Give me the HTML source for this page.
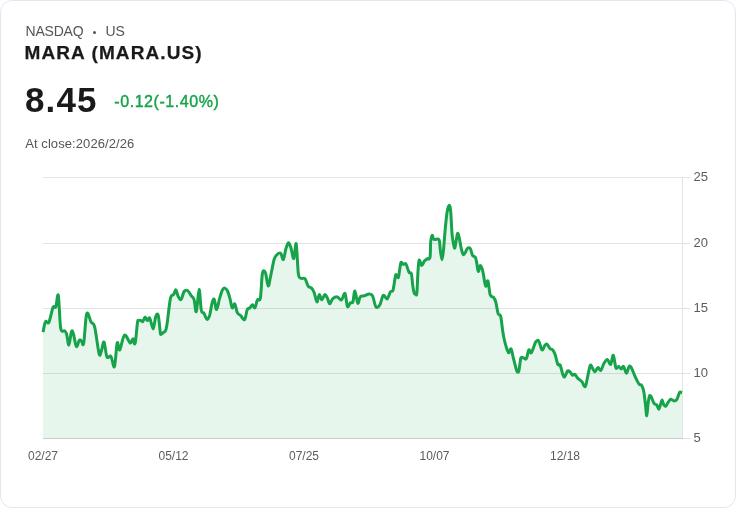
<!DOCTYPE html>
<html lang="en">
<head>
<meta charset="utf-8">
<title>MARA (MARA.US)</title>
<style>
html,body{margin:0;padding:0;background:#fff;}
body{width:736px;height:508px;overflow:hidden;font-family:"Liberation Sans",sans-serif;}
.card{position:absolute;left:0;top:0;width:734px;height:506px;border:1px solid #e2e7f1;border-radius:12px;background:#fff;}
.t{position:absolute;white-space:nowrap;line-height:1;}
.mkt{left:25.5px;top:24.3px;font-size:14px;color:#555;letter-spacing:-.2px;}
.us{left:105.4px;top:24.3px;font-size:14px;color:#555;letter-spacing:-.1px;}
.dot{position:absolute;left:92.6px;top:31px;width:3.4px;height:3.4px;border-radius:50%;background:#555;}
.name{left:24.6px;top:43px;font-size:19px;font-weight:700;color:#1a1a1a;letter-spacing:1.08px;-webkit-text-stroke:.25px #1a1a1a;}
.price{left:25px;top:81.5px;font-size:35px;font-weight:700;color:#1a1a1a;letter-spacing:1.1px;}
.chg{left:114.3px;top:93.5px;font-size:16px;color:#16a34a;letter-spacing:.56px;-webkit-text-stroke:.4px #16a34a;}
.close{left:25.2px;top:137px;font-size:13px;color:#555;letter-spacing:.08px;}
svg{position:absolute;left:0;top:0;}
svg text{font-family:"Liberation Sans",sans-serif;fill:#5c5c5c;}
</style>
</head>
<body>
<div class="card"></div>
<div class="t mkt">NASDAQ</div><div class="dot"></div><div class="t us">US</div>
<div class="t name">MARA (MARA.US)</div>
<div class="t price">8.45</div>
<div class="t chg">-0.12(-1.40%)</div>
<div class="t close">At close:2026/2/26</div>
<svg width="736" height="508" viewBox="0 0 736 508">
<g stroke="#e3e3e3" stroke-width="1" >
<line x1="43" y1="177.5" x2="690.5" y2="177.5"/>
<line x1="43" y1="243.5" x2="690.5" y2="243.5"/>
<line x1="43" y1="308.5" x2="690.5" y2="308.5"/>
<line x1="43" y1="373.5" x2="690.5" y2="373.5"/>
<line x1="682" y1="438.5" x2="690.5" y2="438.5"/>
<line x1="682.5" y1="177" x2="682.5" y2="439"/>
</g>
<path d="M43.0 332.2C43.4 330.4 44.5 323.3 45.5 321.7C46.5 320.1 47.6 324.7 48.9 322.3C50.1 319.9 51.9 310.0 53.0 307.4C54.1 304.8 54.9 308.9 55.8 306.9C56.7 304.9 57.5 291.8 58.3 295.3C59.1 298.9 59.7 322.3 60.7 328.2C61.8 334.1 63.6 329.8 64.6 330.8C65.6 331.8 65.9 331.7 66.6 334.1C67.3 336.5 68.1 345.4 68.9 345.0C69.7 344.6 70.7 333.4 71.5 331.6C72.3 329.8 72.7 331.6 73.5 334.1C74.3 336.6 75.4 345.5 76.4 346.5C77.4 347.5 78.5 341.2 79.3 340.3C80.1 339.4 80.8 340.5 81.5 341.0C82.2 341.5 82.8 347.7 83.7 343.2C84.6 338.7 85.5 317.3 86.7 313.8C88.0 310.3 89.9 320.1 91.2 322.3C92.5 324.5 93.4 321.9 94.7 327.2C96.0 332.4 98.0 349.9 99.1 353.8C100.2 357.8 100.6 352.9 101.4 350.9C102.2 348.9 103.1 341.0 104.0 342.0C104.9 343.0 105.8 354.4 106.9 356.8C108.1 359.2 109.7 354.8 110.9 356.4C112.2 358.0 113.4 368.8 114.4 366.6C115.5 364.4 116.3 345.8 117.2 343.0C118.1 340.2 118.5 351.2 119.7 349.9C120.9 348.6 122.8 336.2 124.6 335.1C126.3 334.0 128.8 342.4 130.2 343.0C131.6 343.6 132.1 338.6 132.9 338.7C133.7 338.8 134.3 346.1 135.1 343.4C135.9 340.7 136.9 326.3 137.5 322.5C138.1 318.7 138.1 321.0 138.6 320.6C139.1 320.2 139.8 320.2 140.5 320.4C141.2 320.6 142.1 322.2 142.8 321.6C143.6 321.1 144.2 317.3 145.0 317.1C145.8 316.9 146.5 320.4 147.3 320.6C148.1 320.8 148.7 316.7 149.7 318.1C150.7 319.5 152.2 329.1 153.2 328.9C154.2 328.7 154.8 319.4 155.6 317.1C156.4 314.8 157.4 312.6 158.2 315.2C159.0 317.8 159.8 329.4 160.3 332.5C160.8 335.6 160.8 334.0 161.3 334.0C161.8 334.0 162.5 333.2 163.2 332.6C163.9 332.0 165.0 331.9 165.6 330.6C166.2 329.3 166.4 327.9 166.9 325.0C167.4 322.1 167.8 317.7 168.4 313.1C169.0 308.5 169.8 300.5 170.7 297.4C171.6 294.3 172.8 295.6 173.7 294.4C174.6 293.1 175.2 289.6 175.9 289.9C176.7 290.2 177.3 294.8 178.2 296.4C179.1 298.0 180.2 300.2 181.2 299.4C182.2 298.6 183.0 293.0 184.1 291.5C185.2 290.0 186.3 289.9 187.5 290.5C188.7 291.1 189.9 293.9 191.0 295.4C192.1 296.9 193.1 296.7 194.0 299.4C194.9 302.1 195.5 313.2 196.3 311.6C197.2 310.0 198.3 289.7 199.1 289.5C199.9 289.3 200.5 306.3 201.3 310.2C202.1 314.1 202.8 311.6 203.8 313.1C204.8 314.6 206.2 319.1 207.2 319.4C208.2 319.7 208.8 318.0 209.7 315.1C210.5 312.2 211.5 304.9 212.3 302.3C213.1 299.7 213.6 298.2 214.3 299.4C215.0 300.6 215.7 309.8 216.6 309.6C217.5 309.4 218.6 301.7 219.6 298.4C220.6 295.1 221.5 291.7 222.4 290.0C223.3 288.3 224.1 287.9 224.9 288.1C225.8 288.3 226.7 289.4 227.5 291.0C228.3 292.6 229.0 295.1 229.8 297.9C230.6 300.7 231.4 306.8 232.2 307.8C233.0 308.8 234.0 303.0 234.8 303.8C235.7 304.6 236.3 310.7 237.3 312.7C238.3 314.7 239.5 314.5 240.7 315.6C241.9 316.8 243.5 320.6 244.6 319.6C245.7 318.6 246.3 311.7 247.2 309.7C248.1 307.7 249.0 308.6 249.9 307.8C250.8 307.0 251.7 304.8 252.5 304.8C253.3 304.8 254.2 308.6 255.0 307.8C255.8 307.0 256.5 301.5 257.4 299.9C258.3 298.2 259.6 302.2 260.4 297.9C261.2 293.6 261.6 278.8 262.3 274.3C263.0 269.8 263.7 270.9 264.3 270.9C264.9 270.9 265.2 271.8 265.9 274.3C266.5 276.8 267.4 285.9 268.2 286.1C269.0 286.3 269.8 279.7 270.8 275.3C271.8 270.9 273.1 262.9 274.1 259.5C275.2 256.1 276.0 255.7 277.1 254.6C278.2 253.5 279.6 252.4 280.6 253.2C281.7 254.0 282.5 260.2 283.4 259.5C284.3 258.8 285.0 251.5 285.9 248.7C286.8 245.9 287.7 243.0 288.5 242.8C289.3 242.6 290.0 245.1 290.9 247.7C291.8 250.3 292.9 259.1 293.8 258.5C294.7 257.9 295.4 241.3 296.2 243.8C296.9 246.3 297.6 267.6 298.3 273.3C299.1 279.0 299.6 277.3 300.7 278.2C301.8 279.1 303.8 277.5 305.0 278.8C306.2 280.1 307.1 284.6 308.2 286.1C309.3 287.7 310.5 287.0 311.5 288.1C312.5 289.2 313.4 290.7 314.3 293.0C315.2 295.3 316.1 301.6 316.9 301.9C317.7 302.2 318.5 294.9 319.3 294.6C320.1 294.3 320.9 299.9 321.8 299.9C322.7 299.9 323.9 294.9 324.8 294.6C325.7 294.3 326.5 296.4 327.3 297.9C328.1 299.4 328.8 303.6 329.7 303.8C330.6 304.0 331.4 300.0 332.6 298.9C333.9 297.8 335.7 296.7 337.2 296.9C338.7 297.1 340.2 300.5 341.5 299.9C342.8 299.3 344.0 292.3 345.0 293.4C346.0 294.5 346.5 304.8 347.4 306.4C348.3 308.0 349.5 303.6 350.4 302.8C351.3 302.1 352.1 303.9 352.9 301.9C353.6 299.9 354.1 290.8 354.9 291.0C355.7 291.2 356.9 302.2 357.8 303.2C358.7 304.2 359.1 298.1 360.2 296.9C361.2 295.7 362.6 296.4 364.1 295.9C365.6 295.4 367.7 294.0 369.1 294.0C370.5 294.0 371.5 293.8 372.6 295.9C373.7 298.0 374.7 305.3 375.9 306.8C377.1 308.3 378.7 306.7 379.9 304.8C381.1 302.9 382.0 296.4 383.2 295.4C384.4 294.4 386.0 299.5 387.2 298.9C388.4 298.3 389.4 293.4 390.3 292.0C391.2 290.6 392.2 291.9 392.8 290.6C393.4 289.3 393.6 287.0 394.1 284.4C394.6 281.8 395.1 275.9 395.8 274.8C396.5 273.7 397.7 278.3 398.3 277.5C398.9 276.7 399.2 272.5 399.6 270.0C400.1 267.5 400.4 263.3 401.0 262.4C401.6 261.5 402.3 264.2 403.1 264.4C403.9 264.6 405.0 263.0 405.8 263.8C406.6 264.6 407.3 267.8 407.9 269.3C408.5 270.8 408.7 271.9 409.3 272.7C409.9 273.4 410.8 271.7 411.4 273.8C412.0 275.9 412.2 282.0 412.7 285.1C413.1 288.2 413.6 291.1 414.1 292.7C414.6 294.3 415.0 294.5 415.5 294.5C416.0 294.5 416.5 296.6 416.9 292.7C417.3 288.8 417.6 276.8 418.0 271.3C418.4 265.9 418.6 260.9 419.2 260.0C419.8 259.1 420.8 265.4 421.7 265.6C422.6 265.8 423.5 262.1 424.4 261.0C425.3 259.9 426.3 259.3 427.2 258.7C428.1 258.1 429.4 260.3 430.0 257.5C430.6 254.7 430.3 245.6 430.7 241.9C431.1 238.2 431.5 235.8 432.1 235.4C432.7 235.0 433.0 238.7 434.1 239.4C435.2 240.1 438.0 238.0 439.0 239.8C440.0 241.6 439.8 246.8 440.3 250.1C440.8 253.4 441.5 259.8 442.0 259.8C442.5 259.8 443.0 255.2 443.5 250.1C444.0 245.0 444.6 235.8 445.2 229.4C445.8 223.0 446.5 215.5 447.2 211.5C447.9 207.5 448.7 205.3 449.3 205.3C449.9 205.3 450.2 206.8 450.7 211.5C451.1 216.2 451.6 228.3 452.0 233.6C452.4 238.9 452.9 240.8 453.4 243.2C453.9 245.6 454.3 248.5 454.8 248.1C455.3 247.7 455.7 243.0 456.2 240.5C456.7 238.0 457.1 233.8 457.6 233.3C458.1 232.8 458.6 235.3 459.2 237.7C459.8 240.0 460.4 244.6 461.0 247.4C461.6 250.2 462.4 253.4 463.1 254.3C463.8 255.2 464.4 253.8 465.1 252.9C465.8 252.0 466.4 249.5 467.2 248.7C468.0 247.9 469.3 247.6 470.0 248.1C470.7 248.6 470.9 250.2 471.3 251.5C471.8 252.8 472.0 254.6 472.7 255.6C473.4 256.6 474.8 256.3 475.5 257.7C476.2 259.1 476.4 261.6 476.9 263.9C477.4 266.2 477.7 271.1 478.3 271.4C478.9 271.7 479.6 265.6 480.3 265.5C481.0 265.4 481.8 267.4 482.7 270.8C483.6 274.2 484.7 284.2 485.6 285.9C486.5 287.6 487.1 279.5 487.9 281.0C488.7 282.5 489.3 292.1 490.2 294.8C491.1 297.5 492.5 296.2 493.4 297.3C494.3 298.4 494.9 299.0 495.7 301.7C496.5 304.4 497.3 311.1 498.1 313.5C498.9 315.9 499.9 313.6 500.7 316.4C501.4 319.2 502.0 326.1 502.6 330.2C503.2 334.3 503.8 337.7 504.6 341.0C505.4 344.3 506.5 347.9 507.2 349.9C507.9 351.9 508.2 353.0 508.9 352.8C509.5 352.6 510.3 347.9 511.1 348.9C511.9 349.9 512.6 355.3 513.5 358.7C514.4 362.1 515.6 367.1 516.2 369.3C516.9 371.5 517.0 371.6 517.4 372.0C517.8 372.4 518.3 372.7 518.7 371.6C519.1 370.5 519.3 367.8 519.7 365.5C520.1 363.2 520.3 359.3 520.9 358.0C521.5 356.7 522.4 357.7 523.3 357.8C524.2 357.9 525.4 360.0 526.3 358.7C527.2 357.4 528.0 350.9 528.8 349.9C529.6 348.9 530.3 353.5 531.2 352.8C532.1 352.1 533.3 347.8 534.1 345.9C534.9 344.0 535.3 342.2 536.1 341.4C536.9 340.6 537.7 339.6 538.7 341.0C539.7 342.4 541.0 349.1 542.0 349.9C543.0 350.7 543.8 346.9 544.6 345.9C545.4 344.9 546.0 343.6 546.9 344.0C547.8 344.4 548.9 347.5 549.9 348.5C550.9 349.5 551.9 348.8 552.8 349.9C553.7 350.9 554.4 352.4 555.2 354.8C556.0 357.2 557.0 362.6 557.8 364.3C558.6 366.0 559.3 363.4 560.1 365.0C560.9 366.6 562.0 372.1 562.7 374.1C563.5 376.1 563.8 377.4 564.6 376.9C565.4 376.4 566.7 371.7 567.6 370.9C568.5 370.1 569.4 371.4 570.2 372.1C571.0 372.8 571.7 374.8 572.5 375.2C573.3 375.6 574.0 373.9 574.9 374.4C575.8 374.9 576.5 376.9 577.6 378.1C578.8 379.3 580.5 380.2 581.8 381.6C583.1 383.0 584.2 387.6 585.2 386.7C586.2 385.8 586.9 379.9 587.7 376.3C588.6 372.8 589.5 366.7 590.3 365.4C591.1 364.1 591.8 367.3 592.6 368.4C593.4 369.4 594.1 371.9 595.0 371.7C595.9 371.5 597.0 367.6 598.0 367.4C599.0 367.2 599.9 371.0 600.9 370.4C601.9 369.8 602.8 365.3 603.9 363.5C605.0 361.7 606.3 359.4 607.4 359.5C608.5 359.6 609.7 365.1 610.7 364.4C611.7 363.7 612.4 354.6 613.3 355.2C614.2 355.8 615.0 365.9 615.9 367.8C616.8 369.7 617.7 366.2 618.6 366.4C619.5 366.6 620.4 369.0 621.2 369.0C622.0 369.0 622.6 365.7 623.5 366.4C624.4 367.1 625.6 373.3 626.5 373.3C627.4 373.3 628.3 367.3 629.1 366.4C629.9 365.5 630.4 366.1 631.4 367.8C632.4 369.5 633.9 374.1 635.2 376.8C636.5 379.5 637.9 382.7 639.0 384.1C640.1 385.6 640.9 384.2 641.7 385.5C642.5 386.8 643.2 388.6 643.8 391.7C644.4 394.8 644.9 400.1 645.4 404.1C645.9 408.1 646.3 416.0 646.8 415.8C647.3 415.6 647.7 406.0 648.2 402.7C648.7 399.4 649.1 396.7 649.6 395.8C650.1 394.9 650.6 395.9 651.4 397.2C652.1 398.5 653.2 402.1 654.1 403.4C655.0 404.7 656.1 404.2 656.9 405.2C657.7 406.2 658.3 409.5 658.9 409.3C659.5 409.1 660.1 405.7 660.6 404.1C661.1 402.6 661.6 399.9 662.1 400.0C662.6 400.1 663.2 403.8 663.8 404.8C664.4 405.8 665.1 406.6 665.8 406.2C666.5 405.8 667.1 403.8 667.9 402.7C668.7 401.6 669.7 399.6 670.7 399.3C671.7 399.0 673.1 400.9 674.1 400.9C675.1 400.9 676.2 400.3 676.9 399.3C677.6 398.3 678.0 396.3 678.5 395.1C679.0 393.9 679.3 392.4 679.9 392.0C680.5 391.6 681.7 392.7 682.1 392.8L682.1 438L43.0 438Z" fill="#16a34a" fill-opacity="0.1" stroke="none"/>
<line x1="43" y1="438.5" x2="683" y2="438.5" stroke="#cccccc" stroke-width="1" shape-rendering="crispEdges"/>
<path d="M43.0 332.2C43.4 330.4 44.5 323.3 45.5 321.7C46.5 320.1 47.6 324.7 48.9 322.3C50.1 319.9 51.9 310.0 53.0 307.4C54.1 304.8 54.9 308.9 55.8 306.9C56.7 304.9 57.5 291.8 58.3 295.3C59.1 298.9 59.7 322.3 60.7 328.2C61.8 334.1 63.6 329.8 64.6 330.8C65.6 331.8 65.9 331.7 66.6 334.1C67.3 336.5 68.1 345.4 68.9 345.0C69.7 344.6 70.7 333.4 71.5 331.6C72.3 329.8 72.7 331.6 73.5 334.1C74.3 336.6 75.4 345.5 76.4 346.5C77.4 347.5 78.5 341.2 79.3 340.3C80.1 339.4 80.8 340.5 81.5 341.0C82.2 341.5 82.8 347.7 83.7 343.2C84.6 338.7 85.5 317.3 86.7 313.8C88.0 310.3 89.9 320.1 91.2 322.3C92.5 324.5 93.4 321.9 94.7 327.2C96.0 332.4 98.0 349.9 99.1 353.8C100.2 357.8 100.6 352.9 101.4 350.9C102.2 348.9 103.1 341.0 104.0 342.0C104.9 343.0 105.8 354.4 106.9 356.8C108.1 359.2 109.7 354.8 110.9 356.4C112.2 358.0 113.4 368.8 114.4 366.6C115.5 364.4 116.3 345.8 117.2 343.0C118.1 340.2 118.5 351.2 119.7 349.9C120.9 348.6 122.8 336.2 124.6 335.1C126.3 334.0 128.8 342.4 130.2 343.0C131.6 343.6 132.1 338.6 132.9 338.7C133.7 338.8 134.3 346.1 135.1 343.4C135.9 340.7 136.9 326.3 137.5 322.5C138.1 318.7 138.1 321.0 138.6 320.6C139.1 320.2 139.8 320.2 140.5 320.4C141.2 320.6 142.1 322.2 142.8 321.6C143.6 321.1 144.2 317.3 145.0 317.1C145.8 316.9 146.5 320.4 147.3 320.6C148.1 320.8 148.7 316.7 149.7 318.1C150.7 319.5 152.2 329.1 153.2 328.9C154.2 328.7 154.8 319.4 155.6 317.1C156.4 314.8 157.4 312.6 158.2 315.2C159.0 317.8 159.8 329.4 160.3 332.5C160.8 335.6 160.8 334.0 161.3 334.0C161.8 334.0 162.5 333.2 163.2 332.6C163.9 332.0 165.0 331.9 165.6 330.6C166.2 329.3 166.4 327.9 166.9 325.0C167.4 322.1 167.8 317.7 168.4 313.1C169.0 308.5 169.8 300.5 170.7 297.4C171.6 294.3 172.8 295.6 173.7 294.4C174.6 293.1 175.2 289.6 175.9 289.9C176.7 290.2 177.3 294.8 178.2 296.4C179.1 298.0 180.2 300.2 181.2 299.4C182.2 298.6 183.0 293.0 184.1 291.5C185.2 290.0 186.3 289.9 187.5 290.5C188.7 291.1 189.9 293.9 191.0 295.4C192.1 296.9 193.1 296.7 194.0 299.4C194.9 302.1 195.5 313.2 196.3 311.6C197.2 310.0 198.3 289.7 199.1 289.5C199.9 289.3 200.5 306.3 201.3 310.2C202.1 314.1 202.8 311.6 203.8 313.1C204.8 314.6 206.2 319.1 207.2 319.4C208.2 319.7 208.8 318.0 209.7 315.1C210.5 312.2 211.5 304.9 212.3 302.3C213.1 299.7 213.6 298.2 214.3 299.4C215.0 300.6 215.7 309.8 216.6 309.6C217.5 309.4 218.6 301.7 219.6 298.4C220.6 295.1 221.5 291.7 222.4 290.0C223.3 288.3 224.1 287.9 224.9 288.1C225.8 288.3 226.7 289.4 227.5 291.0C228.3 292.6 229.0 295.1 229.8 297.9C230.6 300.7 231.4 306.8 232.2 307.8C233.0 308.8 234.0 303.0 234.8 303.8C235.7 304.6 236.3 310.7 237.3 312.7C238.3 314.7 239.5 314.5 240.7 315.6C241.9 316.8 243.5 320.6 244.6 319.6C245.7 318.6 246.3 311.7 247.2 309.7C248.1 307.7 249.0 308.6 249.9 307.8C250.8 307.0 251.7 304.8 252.5 304.8C253.3 304.8 254.2 308.6 255.0 307.8C255.8 307.0 256.5 301.5 257.4 299.9C258.3 298.2 259.6 302.2 260.4 297.9C261.2 293.6 261.6 278.8 262.3 274.3C263.0 269.8 263.7 270.9 264.3 270.9C264.9 270.9 265.2 271.8 265.9 274.3C266.5 276.8 267.4 285.9 268.2 286.1C269.0 286.3 269.8 279.7 270.8 275.3C271.8 270.9 273.1 262.9 274.1 259.5C275.2 256.1 276.0 255.7 277.1 254.6C278.2 253.5 279.6 252.4 280.6 253.2C281.7 254.0 282.5 260.2 283.4 259.5C284.3 258.8 285.0 251.5 285.9 248.7C286.8 245.9 287.7 243.0 288.5 242.8C289.3 242.6 290.0 245.1 290.9 247.7C291.8 250.3 292.9 259.1 293.8 258.5C294.7 257.9 295.4 241.3 296.2 243.8C296.9 246.3 297.6 267.6 298.3 273.3C299.1 279.0 299.6 277.3 300.7 278.2C301.8 279.1 303.8 277.5 305.0 278.8C306.2 280.1 307.1 284.6 308.2 286.1C309.3 287.7 310.5 287.0 311.5 288.1C312.5 289.2 313.4 290.7 314.3 293.0C315.2 295.3 316.1 301.6 316.9 301.9C317.7 302.2 318.5 294.9 319.3 294.6C320.1 294.3 320.9 299.9 321.8 299.9C322.7 299.9 323.9 294.9 324.8 294.6C325.7 294.3 326.5 296.4 327.3 297.9C328.1 299.4 328.8 303.6 329.7 303.8C330.6 304.0 331.4 300.0 332.6 298.9C333.9 297.8 335.7 296.7 337.2 296.9C338.7 297.1 340.2 300.5 341.5 299.9C342.8 299.3 344.0 292.3 345.0 293.4C346.0 294.5 346.5 304.8 347.4 306.4C348.3 308.0 349.5 303.6 350.4 302.8C351.3 302.1 352.1 303.9 352.9 301.9C353.6 299.9 354.1 290.8 354.9 291.0C355.7 291.2 356.9 302.2 357.8 303.2C358.7 304.2 359.1 298.1 360.2 296.9C361.2 295.7 362.6 296.4 364.1 295.9C365.6 295.4 367.7 294.0 369.1 294.0C370.5 294.0 371.5 293.8 372.6 295.9C373.7 298.0 374.7 305.3 375.9 306.8C377.1 308.3 378.7 306.7 379.9 304.8C381.1 302.9 382.0 296.4 383.2 295.4C384.4 294.4 386.0 299.5 387.2 298.9C388.4 298.3 389.4 293.4 390.3 292.0C391.2 290.6 392.2 291.9 392.8 290.6C393.4 289.3 393.6 287.0 394.1 284.4C394.6 281.8 395.1 275.9 395.8 274.8C396.5 273.7 397.7 278.3 398.3 277.5C398.9 276.7 399.2 272.5 399.6 270.0C400.1 267.5 400.4 263.3 401.0 262.4C401.6 261.5 402.3 264.2 403.1 264.4C403.9 264.6 405.0 263.0 405.8 263.8C406.6 264.6 407.3 267.8 407.9 269.3C408.5 270.8 408.7 271.9 409.3 272.7C409.9 273.4 410.8 271.7 411.4 273.8C412.0 275.9 412.2 282.0 412.7 285.1C413.1 288.2 413.6 291.1 414.1 292.7C414.6 294.3 415.0 294.5 415.5 294.5C416.0 294.5 416.5 296.6 416.9 292.7C417.3 288.8 417.6 276.8 418.0 271.3C418.4 265.9 418.6 260.9 419.2 260.0C419.8 259.1 420.8 265.4 421.7 265.6C422.6 265.8 423.5 262.1 424.4 261.0C425.3 259.9 426.3 259.3 427.2 258.7C428.1 258.1 429.4 260.3 430.0 257.5C430.6 254.7 430.3 245.6 430.7 241.9C431.1 238.2 431.5 235.8 432.1 235.4C432.7 235.0 433.0 238.7 434.1 239.4C435.2 240.1 438.0 238.0 439.0 239.8C440.0 241.6 439.8 246.8 440.3 250.1C440.8 253.4 441.5 259.8 442.0 259.8C442.5 259.8 443.0 255.2 443.5 250.1C444.0 245.0 444.6 235.8 445.2 229.4C445.8 223.0 446.5 215.5 447.2 211.5C447.9 207.5 448.7 205.3 449.3 205.3C449.9 205.3 450.2 206.8 450.7 211.5C451.1 216.2 451.6 228.3 452.0 233.6C452.4 238.9 452.9 240.8 453.4 243.2C453.9 245.6 454.3 248.5 454.8 248.1C455.3 247.7 455.7 243.0 456.2 240.5C456.7 238.0 457.1 233.8 457.6 233.3C458.1 232.8 458.6 235.3 459.2 237.7C459.8 240.0 460.4 244.6 461.0 247.4C461.6 250.2 462.4 253.4 463.1 254.3C463.8 255.2 464.4 253.8 465.1 252.9C465.8 252.0 466.4 249.5 467.2 248.7C468.0 247.9 469.3 247.6 470.0 248.1C470.7 248.6 470.9 250.2 471.3 251.5C471.8 252.8 472.0 254.6 472.7 255.6C473.4 256.6 474.8 256.3 475.5 257.7C476.2 259.1 476.4 261.6 476.9 263.9C477.4 266.2 477.7 271.1 478.3 271.4C478.9 271.7 479.6 265.6 480.3 265.5C481.0 265.4 481.8 267.4 482.7 270.8C483.6 274.2 484.7 284.2 485.6 285.9C486.5 287.6 487.1 279.5 487.9 281.0C488.7 282.5 489.3 292.1 490.2 294.8C491.1 297.5 492.5 296.2 493.4 297.3C494.3 298.4 494.9 299.0 495.7 301.7C496.5 304.4 497.3 311.1 498.1 313.5C498.9 315.9 499.9 313.6 500.7 316.4C501.4 319.2 502.0 326.1 502.6 330.2C503.2 334.3 503.8 337.7 504.6 341.0C505.4 344.3 506.5 347.9 507.2 349.9C507.9 351.9 508.2 353.0 508.9 352.8C509.5 352.6 510.3 347.9 511.1 348.9C511.9 349.9 512.6 355.3 513.5 358.7C514.4 362.1 515.6 367.1 516.2 369.3C516.9 371.5 517.0 371.6 517.4 372.0C517.8 372.4 518.3 372.7 518.7 371.6C519.1 370.5 519.3 367.8 519.7 365.5C520.1 363.2 520.3 359.3 520.9 358.0C521.5 356.7 522.4 357.7 523.3 357.8C524.2 357.9 525.4 360.0 526.3 358.7C527.2 357.4 528.0 350.9 528.8 349.9C529.6 348.9 530.3 353.5 531.2 352.8C532.1 352.1 533.3 347.8 534.1 345.9C534.9 344.0 535.3 342.2 536.1 341.4C536.9 340.6 537.7 339.6 538.7 341.0C539.7 342.4 541.0 349.1 542.0 349.9C543.0 350.7 543.8 346.9 544.6 345.9C545.4 344.9 546.0 343.6 546.9 344.0C547.8 344.4 548.9 347.5 549.9 348.5C550.9 349.5 551.9 348.8 552.8 349.9C553.7 350.9 554.4 352.4 555.2 354.8C556.0 357.2 557.0 362.6 557.8 364.3C558.6 366.0 559.3 363.4 560.1 365.0C560.9 366.6 562.0 372.1 562.7 374.1C563.5 376.1 563.8 377.4 564.6 376.9C565.4 376.4 566.7 371.7 567.6 370.9C568.5 370.1 569.4 371.4 570.2 372.1C571.0 372.8 571.7 374.8 572.5 375.2C573.3 375.6 574.0 373.9 574.9 374.4C575.8 374.9 576.5 376.9 577.6 378.1C578.8 379.3 580.5 380.2 581.8 381.6C583.1 383.0 584.2 387.6 585.2 386.7C586.2 385.8 586.9 379.9 587.7 376.3C588.6 372.8 589.5 366.7 590.3 365.4C591.1 364.1 591.8 367.3 592.6 368.4C593.4 369.4 594.1 371.9 595.0 371.7C595.9 371.5 597.0 367.6 598.0 367.4C599.0 367.2 599.9 371.0 600.9 370.4C601.9 369.8 602.8 365.3 603.9 363.5C605.0 361.7 606.3 359.4 607.4 359.5C608.5 359.6 609.7 365.1 610.7 364.4C611.7 363.7 612.4 354.6 613.3 355.2C614.2 355.8 615.0 365.9 615.9 367.8C616.8 369.7 617.7 366.2 618.6 366.4C619.5 366.6 620.4 369.0 621.2 369.0C622.0 369.0 622.6 365.7 623.5 366.4C624.4 367.1 625.6 373.3 626.5 373.3C627.4 373.3 628.3 367.3 629.1 366.4C629.9 365.5 630.4 366.1 631.4 367.8C632.4 369.5 633.9 374.1 635.2 376.8C636.5 379.5 637.9 382.7 639.0 384.1C640.1 385.6 640.9 384.2 641.7 385.5C642.5 386.8 643.2 388.6 643.8 391.7C644.4 394.8 644.9 400.1 645.4 404.1C645.9 408.1 646.3 416.0 646.8 415.8C647.3 415.6 647.7 406.0 648.2 402.7C648.7 399.4 649.1 396.7 649.6 395.8C650.1 394.9 650.6 395.9 651.4 397.2C652.1 398.5 653.2 402.1 654.1 403.4C655.0 404.7 656.1 404.2 656.9 405.2C657.7 406.2 658.3 409.5 658.9 409.3C659.5 409.1 660.1 405.7 660.6 404.1C661.1 402.6 661.6 399.9 662.1 400.0C662.6 400.1 663.2 403.8 663.8 404.8C664.4 405.8 665.1 406.6 665.8 406.2C666.5 405.8 667.1 403.8 667.9 402.7C668.7 401.6 669.7 399.6 670.7 399.3C671.7 399.0 673.1 400.9 674.1 400.9C675.1 400.9 676.2 400.3 676.9 399.3C677.6 398.3 678.0 396.3 678.5 395.1C679.0 393.9 679.3 392.4 679.9 392.0C680.5 391.6 681.7 392.7 682.1 392.8" fill="none" stroke="#16a34a" stroke-width="3" stroke-linejoin="round" stroke-linecap="butt"/>
<g font-size="13">
<text x="693.5" y="180.5">25</text>
<text x="693.5" y="247">20</text>
<text x="693.5" y="312">15</text>
<text x="693.5" y="376.5">10</text>
<text x="693.5" y="441.5">5</text>
</g>
<g font-size="12" text-anchor="middle">
<text x="43" y="460">02/27</text>
<text x="173.5" y="460">05/12</text>
<text x="304" y="460">07/25</text>
<text x="434.5" y="460">10/07</text>
<text x="565" y="460">12/18</text>
</g>
</svg>
</body>
</html>
